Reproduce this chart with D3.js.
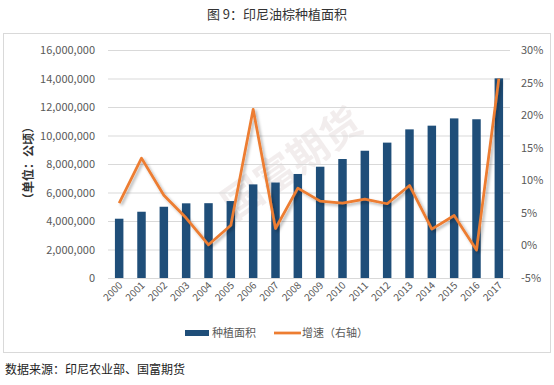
<!DOCTYPE html>
<html>
<head>
<meta charset="utf-8">
<script src="https://cdn.jsdelivr.net/npm/d3@7"></script>
<style>
  body { margin: 0; background: #fff; }
  svg { display: block; }
</style>
</head>
<body>
<svg id="chart" width="554" height="385"></svg>
<script>
const years = ['2000', '2001', '2002', '2003', '2004', '2005', '2006', '2007', '2008',
  '2009', '2010', '2011', '2012', '2013', '2014', '2015', '2016', '2017'];
// planted area, hectares
const area = [4160000, 4650000, 5000000, 5240000, 5250000, 5400000, 6570000, 6700000, 7300000,
  7810000, 8350000, 8930000, 9500000, 10430000, 10690000, 11200000, 11140000, 14010000];
// growth rate, %
const growth = [6.5, 13.4, 7.7, 4.2, 0.1, 3.1, 20.9, 2.6, 8.8,
  6.8, 6.5, 7.1, 6.4, 9.2, 2.5, 4.6, -0.7, 25.6];
const leftTicks = [0, 2000000, 4000000, 6000000, 8000000, 10000000, 12000000, 14000000, 16000000];
const rightTicks = [-5, 0, 5, 10, 15, 20, 25, 30];

const svg = d3.select('#chart');
const font = "'Microsoft YaHei', 'Noto Sans CJK SC', sans-serif";
const plotTop = 50, plotBottom = 278, plotLeft = 108, plotRight = 510;

const x = d3.scaleBand().domain(years).range([plotLeft, plotRight]).paddingInner(0.62).paddingOuter(0.31);
const y = d3.scaleLinear().domain([0, 16000000]).range([plotBottom, plotTop]);
const y2 = d3.scaleLinear().domain([-5, 30]).range([plotBottom, plotTop]);

// title
svg.append('text')
  .attr('x', 277).attr('y', 19)
  .attr('text-anchor', 'middle')
  .attr('font-family', font).attr('font-size', 13)
  .attr('fill', '#333')
  .text('图 9：印尼油棕种植面积');

// frame
svg.append('rect')
  .attr('x', 3.5).attr('y', 33.5).attr('width', 547).attr('height', 319)
  .attr('fill', 'none').attr('stroke', '#d9d9d9');

// watermark
svg.append('text')
  .attr('transform', 'translate(300,175) rotate(-35)')
  .attr('text-anchor', 'middle')
  .attr('font-family', font).attr('font-size', 40).attr('font-weight', 'bold')
  .attr('fill', '#e8e0e0').attr('opacity', 0.55)
  .text('国富期货');

// gridlines
svg.append('g')
  .selectAll('line')
  .data(leftTicks.slice(1))
  .join('line')
  .attr('x1', plotLeft).attr('x2', plotRight)
  .attr('y1', d => y(d) + 0.5).attr('y2', d => y(d) + 0.5)
  .attr('stroke', '#d9d9d9');

// left axis
const gl = svg.append('g')
  .attr('transform', `translate(${plotLeft - 13},0)`)
  .call(d3.axisLeft(y).tickValues(leftTicks).tickFormat(d3.format(',')).tickSize(0).tickPadding(0));
gl.select('.domain').remove();
gl.selectAll('text').attr('font-family', font).attr('font-size', 11).attr('fill', '#595959');

// right axis
const gr = svg.append('g')
  .attr('transform', `translate(${plotRight + 11},0)`)
  .call(d3.axisRight(y2).tickValues(rightTicks).tickFormat(d => d + '%').tickSize(0).tickPadding(0));
gr.select('.domain').remove();
gr.selectAll('text').attr('font-family', font).attr('font-size', 11).attr('fill', '#595959');

// y axis title
svg.append('text')
  .attr('transform', 'translate(33,163) rotate(-90)')
  .attr('text-anchor', 'middle')
  .attr('font-family', font).attr('font-size', 12).attr('font-weight', 'bold')
  .attr('fill', '#333')
  .text('（单位：公顷）');

// bars
svg.append('g')
  .selectAll('rect')
  .data(area)
  .join('rect')
  .attr('x', (d, i) => x(years[i]))
  .attr('y', d => y(d))
  .attr('width', x.bandwidth())
  .attr('height', d => plotBottom - y(d))
  .attr('fill', '#1f4e79');

// baseline
svg.append('line')
  .attr('x1', plotLeft).attr('x2', plotRight)
  .attr('y1', plotBottom + 0.5).attr('y2', plotBottom + 0.5)
  .attr('stroke', '#d9d9d9');

// x labels
const gx = svg.append('g')
  .attr('transform', `translate(0,${plotBottom})`)
  .call(d3.axisBottom(x).tickSize(0).tickPadding(0));
gx.select('.domain').remove();
gx.selectAll('text')
  .attr('font-family', font).attr('font-size', 10).attr('fill', '#595959')
  .attr('text-anchor', 'end')
  .attr('dy', 0)
  .attr('transform', 'translate(4,8) rotate(-45)');

// shadow filter for the line
const defs = svg.append('defs');
const f = defs.append('filter').attr('id', 'shadow').attr('x', '-10%').attr('y', '-10%').attr('width', '130%').attr('height', '130%');
f.append('feDropShadow').attr('dx', 2).attr('dy', 2).attr('stdDeviation', 1.5)
  .attr('flood-color', '#000').attr('flood-opacity', 0.3);

const line = d3.line()
  .x((d, i) => x(years[i]) + x.bandwidth() / 2)
  .y(d => y2(d));

svg.append('path')
  .datum(growth)
  .attr('d', line)
  .attr('fill', 'none')
  .attr('stroke', '#ed7d31')
  .attr('stroke-width', 2.75)
  .attr('stroke-linejoin', 'round')
  .attr('filter', 'url(#shadow)');

// legend
const lg = svg.append('g').attr('font-family', font).attr('font-size', 11).attr('fill', '#595959');
lg.append('rect').attr('x', 185).attr('y', 330).attr('width', 24).attr('height', 6).attr('fill', '#1f4e79');
lg.append('text').attr('x', 212).attr('y', 337).text('种植面积');
lg.append('line').attr('x1', 274).attr('x2', 301).attr('y1', 333).attr('y2', 333)
  .attr('stroke', '#ed7d31').attr('stroke-width', 2.75);
lg.append('text').attr('x', 302).attr('y', 337).text('增速（右轴）');

// source
svg.append('text')
  .attr('x', 5).attr('y', 374)
  .attr('font-family', font).attr('font-size', 12)
  .attr('fill', '#222')
  .text('数据来源：印尼农业部、国富期货');
</script>
</body>
</html>
